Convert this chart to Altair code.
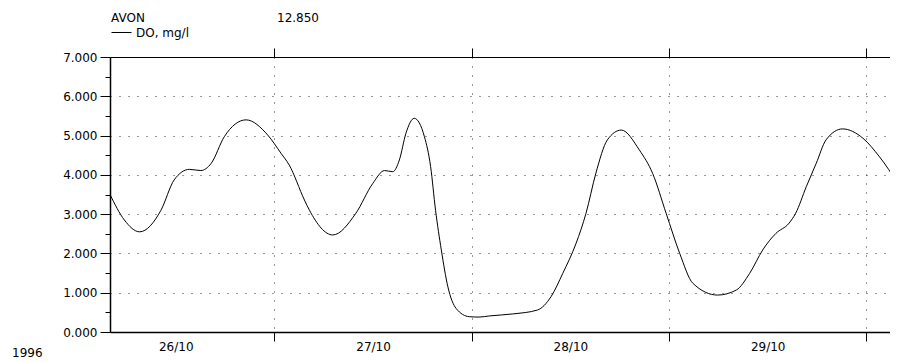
import altair as alt
import pandas as pd

# Hours counted from 26/10/1996 00:00
hours = [4.0, 5.75, 7.6, 10.2, 11.8, 13.66, 15.05, 16.3, 17.9, 20.55, 23.2, 24.8,
         25.8, 27.65, 28.26, 31.1, 33.9, 35.96, 37.4, 38.4, 39.2, 40.0, 41.0, 42.25,
         43.0, 43.6, 44.3, 45.1, 46.1, 47.7, 48.9, 50.2, 53.0, 56.0, 57.65, 59.07,
         60.7, 61.9, 63.1, 64.5, 66.2, 68.4, 70.0, 71.65, 73.3, 74.9, 77.9, 80.2,
         81.8, 83.4, 85.0, 86.6, 87.4, 88.7, 89.9, 91.1, 93.1, 95.6, 97.6, 99.85]
do_values = [3.50, 2.85, 2.55, 3.10, 3.87, 4.14, 4.11, 4.29, 4.97, 5.40, 5.01, 4.55,
             4.25, 3.36, 3.10, 2.47, 3.02, 3.78, 4.11, 4.08, 4.38, 5.06, 5.44, 4.97,
             4.21, 3.10, 2.09, 1.15, 0.60, 0.39, 0.38, 0.41, 0.46, 0.56, 0.90, 1.49,
             2.26, 3.02, 4.04, 4.89, 5.14, 4.63, 4.04, 3.02, 2.00, 1.24, 0.94, 1.07,
             1.49, 2.09, 2.51, 2.77, 3.02, 3.70, 4.29, 4.89, 5.17, 4.93, 4.46, 3.78]
series_name = "DO, mg/l"

day_labels = ["26/10", "27/10", "28/10", "29/10"]
noon_hours = [12, 36, 60, 84]
midnight_hours = [24, 48, 72, 96]
y_major = [0, 1, 2, 3, 4, 5, 6, 7]
y_minor = [0.5, 1.5, 2.5, 3.5, 4.5, 5.5, 6.5]

site_name = "AVON"
header_value = "12.850"
year_label = "1996"

FONT = "DejaVu Sans"
FS = 12

df = pd.DataFrame({"hour": hours, "do": do_values, "series": [series_name] * len(hours)})

xscale = alt.Scale(domain=[4.0, 98.88], nice=False, zero=False, clamp=False)
yscale = alt.Scale(domain=[0, 7], nice=False, zero=True)

base = alt.Chart(df)

label_expr = "[" + ",".join("'%s'" % d for d in day_labels) + "][floor(datum.value/24)]"

line = base.mark_line(strokeWidth=1, interpolate="monotone", clip=True).encode(
    x=alt.X("hour:Q", scale=xscale, axis=alt.Axis(
        orient="bottom", values=midnight_hours, labels=False, tickSize=9,
        tickColor="black", domainColor="black", domainWidth=1.5,
        grid=True, gridDash=[1, 8], gridColor="#333", gridWidth=1, title=None)),
    y=alt.Y("do:Q", scale=yscale, axis=alt.Axis(
        orient="left", values=y_major, format=".3f", tickSize=10,
        tickColor="black", domainColor="black", domainWidth=1.5,
        labelFont=FONT, labelFontSize=FS, labelColor="black", labelPadding=3,
        grid=True, gridDash=[1, 8], gridColor="#333", gridWidth=1, title=None)),
    color=alt.Color("series:N", scale=alt.Scale(range=["black"]), legend=alt.Legend(
        title=None, orient="none", legendX=1, legendY=-35, symbolType="stroke",
        symbolSize=400, symbolStrokeWidth=1, labelFont=FONT, labelFontSize=FS,
        labelColor="black", labelOffset=4, padding=0)),
)

top_axis = base.mark_line(opacity=0, clip=True).encode(
    x=alt.X("hour:Q", scale=xscale, axis=alt.Axis(
        orient="top", values=midnight_hours, labels=False, tickSize=9,
        tickColor="black", domainColor="black", domainWidth=1, grid=False, title=None)),
    y=alt.Y("do:Q", scale=yscale, axis=None),
)

day_axis = base.mark_line(opacity=0, clip=True).encode(
    x=alt.X("hour:Q", scale=xscale, axis=alt.Axis(
        orient="bottom", values=noon_hours, ticks=False, domain=False, grid=False,
        labelExpr=label_expr, labelFont=FONT, labelFontSize=FS, labelColor="black",
        labelPadding=9, title=None)),
    y=alt.Y("do:Q", scale=yscale, axis=None),
)

minor_axis = base.mark_line(opacity=0, clip=True).encode(
    x=alt.X("hour:Q", scale=xscale, axis=None),
    y=alt.Y("do:Q", scale=yscale, axis=alt.Axis(
        orient="left", values=y_minor, labels=False, tickSize=5, tickColor="black",
        domain=False, grid=False, title=None)),
)

def note(txt, px, py):
    return alt.Chart(pd.DataFrame({"t": [txt]})).mark_text(
        align="left", baseline="alphabetic", font=FONT, fontSize=FS, color="black"
    ).encode(text="t:N", x=alt.value(px), y=alt.value(py))

chart = alt.layer(
    line, top_axis, day_axis, minor_axis,
    note(site_name, 1, -35), note(header_value, 167, -35), note(year_label, -98, 300),
).resolve_axis(x="independent", y="independent").properties(
    width=780, height=275,
    autosize=alt.AutoSizeParams(type="none"),
    padding={"left": 102, "top": 49, "right": 0, "bottom": 30},
).configure_view(stroke=None).configure_axis(labelFont=FONT)

chart.save("out.html", embed_options={"renderer": "svg", "actions": False})
